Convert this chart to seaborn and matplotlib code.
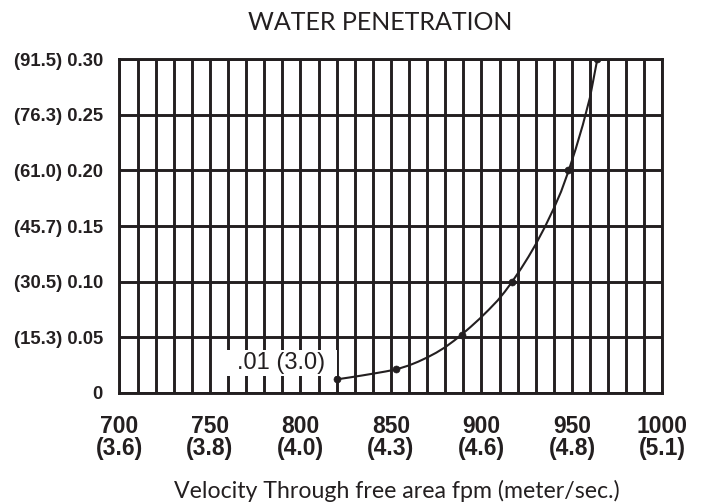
import matplotlib
matplotlib.use("Agg")
import matplotlib.pyplot as plt
from matplotlib.path import Path
import numpy as np
import pandas as pd
import seaborn as sns

# points marked on the chart: velocity (fpm) -> water penetration
marked_fpm = [820, 853, 889, 917, 948, 964]
marked_pen = [0.012, 0.021, 0.052, 0.100, 0.200, 0.300]

# extra points read along the drawn curve, so the line bends like the original
curve_fpm = [820, 827, 834, 841, 847, 853, 860, 865, 870, 875, 880, 885, 889,
             894, 899, 904, 909, 913, 917, 922, 926, 930, 935, 940, 944, 948,
             952, 956, 960, 964]
curve_pen = [0.012, 0.0137, 0.0155, 0.0174, 0.0191, 0.021, 0.0246, 0.0279,
             0.0317, 0.036, 0.041, 0.047, 0.0522, 0.0592, 0.0666, 0.0746,
             0.0831, 0.0911, 0.100, 0.112, 0.1224, 0.1336, 0.149, 0.166,
             0.181, 0.199, 0.219, 0.241, 0.266, 0.300]

x_ticks = [700, 750, 800, 850, 900, 950, 1000]
x_tick_labels = ["700\n(3.6)", "750\n(3.8)", "800\n(4.0)", "850\n(4.3)",
                 "900\n(4.6)", "950\n(4.8)", "1000\n(5.1)"]
y_ticks = [0, 0.05, 0.10, 0.15, 0.20, 0.25, 0.30]
y_tick_labels = ["0", "(15.3) 0.05", "(30.5) 0.10", "(45.7) 0.15",
                 "(61.0) 0.20", "(76.3) 0.25", "(91.5) 0.30"]
note = ".01 (3.0)"

ink = "#231f20"

sns.set_theme(style="white")
plt.rcParams["font.family"] = ["Liberation Sans", "DejaVu Sans"]


def wide_box(x0, y0, width, height, mutation_size):
    # white box with more room at the sides than above/below
    px = 0.49 * mutation_size
    py = 0.09 * mutation_size
    x0, y0 = x0 - px, y0 - py
    x1, y1 = x0 + width + 2 * px, y0 + height + 2 * py
    return Path([(x0, y0), (x1, y0), (x1, y1), (x0, y1), (x0, y0)], closed=True)


curve = pd.DataFrame({"fpm": curve_fpm, "pen": curve_pen})
marks = pd.DataFrame({"fpm": marked_fpm, "pen": marked_pen})

fig = plt.figure(figsize=(7.07, 5.04), dpi=100)
ax = fig.add_axes([0.169, 0.2208, 0.768, 0.6615])

sns.lineplot(data=curve, x="fpm", y="pen", ax=ax, color=ink, lw=1.5,
             sort=False, estimator=None, zorder=4)
sns.scatterplot(data=marks, x="fpm", y="pen", ax=ax, color=ink, s=26,
                edgecolor=ink, zorder=5)

ax.set_xlim(700, 1000)
ax.set_ylim(0, 0.30)
ax.set_xticks(x_ticks)
ax.set_xticks(np.arange(700, 1001, 10), minor=True)
ax.set_yticks(y_ticks)
ax.set_xticklabels(x_tick_labels, fontsize=16.5, fontweight="bold", linespacing=0.95)
ax.set_yticklabels(y_tick_labels, fontsize=13.3, fontweight="bold")
ax.tick_params(axis="both", which="both", length=0, colors=ink)
ax.tick_params(axis="x", pad=16)
ax.tick_params(axis="y", pad=12)

ax.set_axisbelow(True)
ax.grid(axis="x", which="both", color=ink, lw=2.1)
ax.grid(axis="y", which="major", color=ink, lw=2.1)
for s in ax.spines.values():
    s.set_color(ink)
    s.set_linewidth(2.1)

# white label box sitting left of the first point
ax.annotate(note, xy=(marked_fpm[0], marked_pen[0]), xytext=(-8.3, 4),
            textcoords="offset points", ha="right", va="bottom",
            fontsize=17, color=ink, zorder=6,
            bbox=dict(boxstyle=wide_box, fc="white", ec="none"))

ax.set_title("WATER PENETRATION", fontsize=18, family=["Lato", "DejaVu Sans"],
             color=ink, x=0.48, pad=21)
ax.set_xlabel("Velocity Through free area fpm (meter/sec.)", fontsize=16.7,
              family=["Lato", "DejaVu Sans"], color=ink)
ax.xaxis.set_label_coords(0.511, -0.262)
ax.set_ylabel("")

fig.savefig("out.png", dpi=100)
